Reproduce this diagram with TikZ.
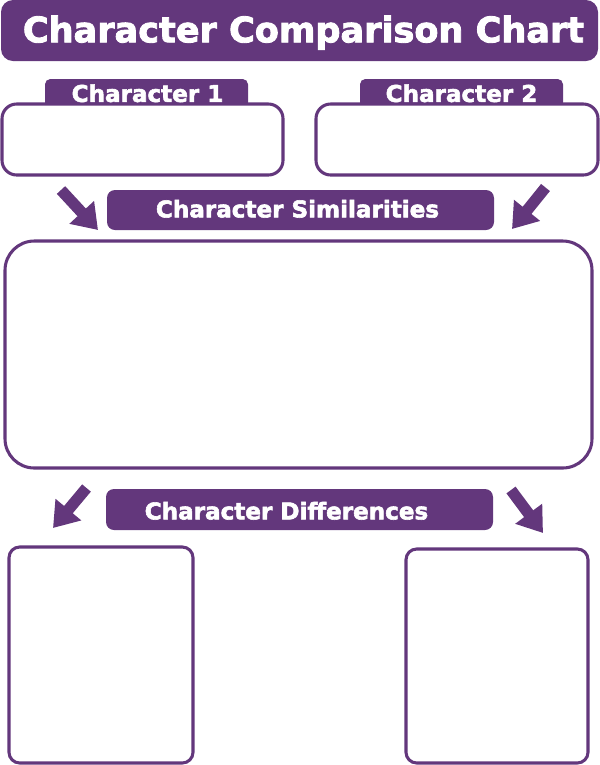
\documentclass[tikz,border=0pt]{standalone}
\usepackage{fontspec}
\usepackage{xcolor}
\usetikzlibrary{arrows.meta}
\newfontfamily\chartfont{DejaVu Sans}[BoldFeatures={FakeBold=2.5}]
\definecolor{chartpurple}{RGB}{99,55,124}

\begin{document}
\begin{tikzpicture}[x=0.75pt,y=0.75pt,yscale=-1,xscale=1,
  banner/.style={fill=chartpurple, draw=none, inner sep=0pt},
  box/.style={draw=chartpurple, fill=white, line width=2.3pt, inner sep=0pt},
  bigcaption/.style={text=white, inner sep=0pt, text depth=0pt, text height=19.2pt, font=\chartfont\bfseries\fontsize{26.3}{30}\selectfont},
  caption/.style={text=white, inner sep=0pt, text depth=0pt, text height=12.6pt, font=\chartfont\bfseries\fontsize{17.3}{20}\selectfont},
  bigarrow/.style={draw=chartpurple, line width=8.5pt, -{Triangle[length=18pt,width=24pt]}}
]
\useasboundingbox (0,0) rectangle (600,765);

%Shape: Title Banner
\node [banner, rounded corners=9pt, minimum width=447.75pt, minimum height=45.75pt] (titlebar) at (299.5,30.5) {};
%Shape: Tab
\node [banner, rounded corners=4pt, minimum width=152.25pt, minimum height=21.75pt] (tabone) at (146.5,93.5) {};
%Shape: Tab
\node [banner, rounded corners=4pt, minimum width=152.25pt, minimum height=21.75pt] (tabtwo) at (461.5,93.5) {};
%Shape: Rounded Rect
\node [box, rounded corners=11pt, minimum width=210.75pt, minimum height=53.25pt] (charone) at (142.5,139.5) {};
%Shape: Rounded Rect
\node [box, rounded corners=11pt, minimum width=211.5pt, minimum height=53.25pt] (chartwo) at (457,139.5) {};
%Shape: Banner
\node [banner, rounded corners=6pt, minimum width=290.25pt, minimum height=30pt] (simbar) at (300.5,210) {};
%Shape: Rounded Rect
\node [box, rounded corners=22pt, minimum width=440.25pt, minimum height=170.25pt] (simbox) at (298.5,354.5) {};
%Shape: Banner
\node [banner, rounded corners=6pt, minimum width=290.25pt, minimum height=30.75pt] (difbar) at (299.5,509.5) {};
%Shape: Rounded Rect
\node [box, rounded corners=8pt, minimum width=138pt, minimum height=162pt] (difone) at (101,655) {};
%Shape: Rounded Rect
\node [box, rounded corners=8pt, minimum width=136.5pt, minimum height=160.5pt] (diftwo) at (497,656) {};

%Arrows
\coordinate (arrowAs) at (61,190);
\coordinate (arrowAe) at (98,230);
\coordinate (arrowBs) at (545.5,187.5);
\coordinate (arrowBe) at (512,229);
\coordinate (arrowCs) at (86.5,488);
\coordinate (arrowCe) at (53,528);
\coordinate (arrowDs) at (511,490);
\coordinate (arrowDe) at (543,533);
\draw [bigarrow] (arrowAs) -- (arrowAe) ;
\draw [bigarrow] (arrowBs) -- (arrowBe) ;
\draw [bigarrow] (arrowCs) -- (arrowCe) ;
\draw [bigarrow] (arrowDs) -- (arrowDe) ;

% Text Node
\node [bigcaption] (titletext) at (303.5,29.5) {Character Comparison Chart};
% Text Node
\node [caption] (tabonetext) at (147.5,93.5) {Character 1};
% Text Node
\node [caption] (tabtwotext) at (461.5,93.5) {Character 2};
% Text Node
\node [caption] (simtext) at (297.5,209) {Character Similarities};
% Text Node
\node [caption] (diftext) at (286.5,511) {Character Differences};

\end{tikzpicture}
\end{document}
